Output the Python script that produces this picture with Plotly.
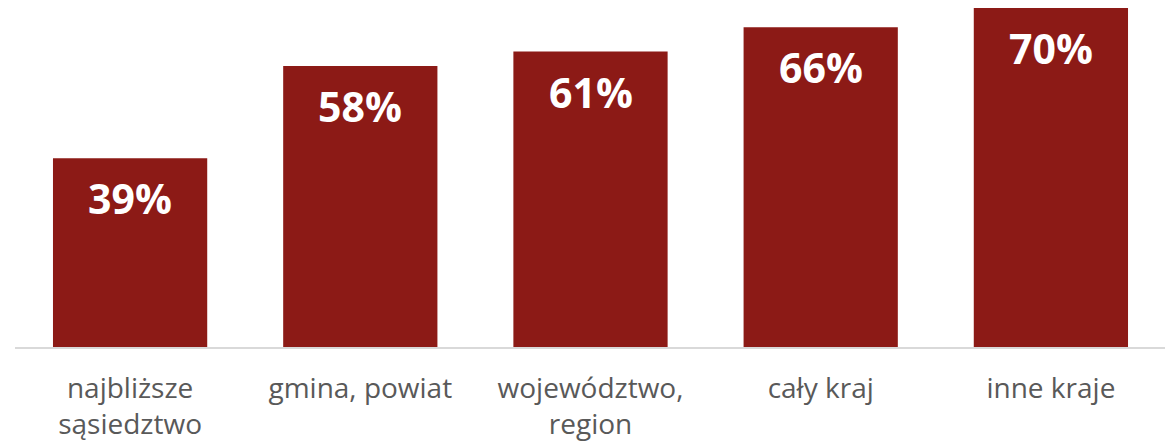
import plotly.graph_objects as go

categories = ['najbliższe<br>sąsiedztwo', 'gmina, powiat', 'województwo,<br>region', 'cały kraj', 'inne kraje']
values = [39, 58, 61, 66, 70]
labels = ['39%', '58%', '61%', '66%', '70%']

bar_color = '#8C1A16'

fig = go.Figure(data=go.Bar(x=categories, y=values,
                            marker=dict(color=bar_color, line=dict(width=0)),
                            hoverinfo='none', name=''))

# value labels inside the top of each bar
for cat, val, lab in zip(categories, values, labels):
    fig.add_annotation(x=cat, y=val, text='<b>' + lab + '</b>',
                       showarrow=False, yanchor='middle', yshift=-40,
                       font=dict(family='Open Sans', size=41, color='white'))

# page body has an 8px margin, so the figure is a bit smaller than the window
fig.update_layout(width=1165, height=437,
                  margin=dict(l=7, r=7, t=0, b=98),
                  plot_bgcolor='white', paper_bgcolor='white',
                  bargap=0.33, showlegend=False,
                  font=dict(family='Open Sans', color='#595959'))

fig.update_yaxes(range=[0, 70], visible=False, showgrid=False)
fig.update_xaxes(showline=True, linecolor='#D9D9D9', linewidth=2,
                 tickfont=dict(size=28, color='#595959'), ticks='',
                 ticklabelstandoff=15)

fig.write_html("out.html")
